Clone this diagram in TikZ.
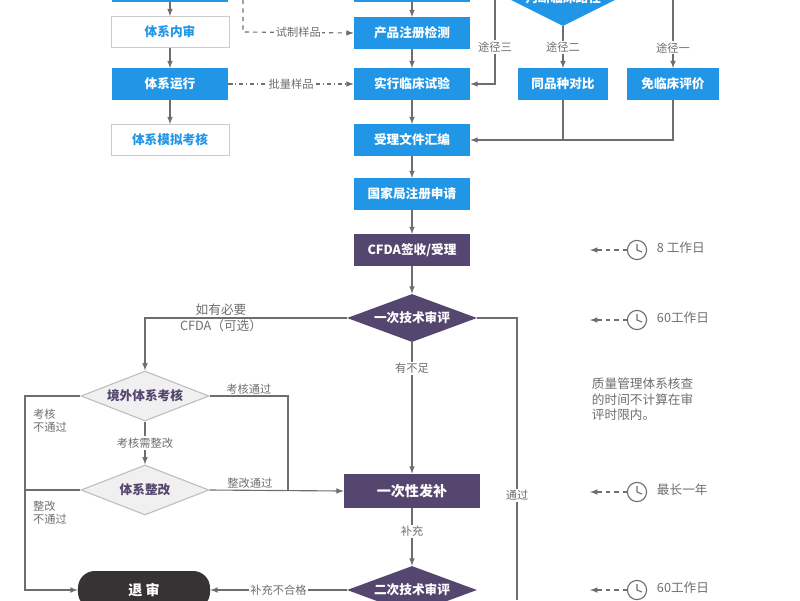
\documentclass[tikz,border=0pt]{standalone}
\usepackage{fontspec}
\setmainfont{Noto Sans CJK SC}
\usetikzlibrary{shapes,arrows,positioning}
\definecolor{regblue}{RGB}{33,150,230}
\definecolor{regpurple}{RGB}{84,70,110}
\definecolor{regdark}{RGB}{55,50,52}
\definecolor{reggray}{RGB}{110,110,110}
\tikzset{
  bluebox/.style={draw=none, fill=regblue, text=white, minimum width=2.9cm, minimum height=0.78cm, font=\bfseries\small, inner sep=0pt},
  whitebox/.style={draw=black!20, fill=white, text=regblue, minimum width=2.95cm, minimum height=0.78cm, font=\bfseries\small, inner sep=0pt},
  purplebox/.style={fill=regpurple, text=white, minimum width=2.9cm, minimum height=0.78cm, font=\bfseries\small, inner sep=0pt},
  purplediam/.style={diamond, aspect=2.8, fill=regpurple, text=white, minimum width=3.25cm, minimum height=1.2cm, font=\bfseries\small, inner sep=0pt},
  graydiam/.style={diamond, aspect=2.6, fill=black!6, draw=black!25, thick, text=regpurple, minimum width=3.2cm, minimum height=1.25cm, font=\bfseries\small, inner sep=0pt},
  line/.style={draw=reggray, thick},
  arr/.style={line, -latex},
  lbl/.style={text=reggray, font=\footnotesize, fill=white, inner sep=1pt},
  note/.style={text=reggray, font=\small},
}
\begin{document}
\begin{tikzpicture}[x=0.025cm, y=-0.025cm]
\useasboundingbox (0,0) rectangle (800,600);
\clip (0,0) rectangle (800,600);

% left column
\node[bluebox] (sysdoc) at (170,-14) {};
\node[whitebox] (audit) at (170,32) {体系内审};
\node[bluebox] (run) at (170,84) {体系运行};
\node[whitebox] (mock) at (170,140) {体系模拟考核};
\draw[arr] (sysdoc) -- (audit);
\draw[arr] (audit) -- (run);
\draw[arr] (run) -- (mock);

% middle column
\node[bluebox] (design) at (412,-14) {};
\node[bluebox] (test) at (412,33) {产品注册检测};
\node[bluebox] (trial) at (412,84) {实行临床试验};
\node[bluebox] (docs) at (412,140) {受理文件汇编};
\node[bluebox] (apply) at (412,194) {国家局注册申请};
\node[purplebox] (cfda) at (412,250) {CFDA签收/受理};
\node[purplediam] (rev1) at (412,318) {一次技术审评};
\node[purplebox, minimum width=3.4cm, minimum height=0.85cm, font=\bfseries] (supp) at (412,491) {一次性发补};
\node[purplediam] (rev2) at (412,590) {二次技术审评};
\draw[arr] (design) -- (test);
\draw[arr] (test) -- (trial);
\draw[arr] (trial) -- (docs);
\draw[arr] (docs) -- (apply);
\draw[arr] (apply) -- (cfda);
\draw[arr] (cfda) -- (rev1);
\draw[arr] (rev1) -- node[lbl, pos=0.2] {有不足} (supp);
\draw[arr] (supp) -- node[lbl, pos=0.4] {补充} (rev2);

% dashed sample flows
\coordinate (dtop) at (243,0);
\draw[line, dashed, -latex] (dtop) -- (243,32) -- node[lbl] {试制样品} (test.west);
\draw[line, dash dot, -latex] (run) -- node[lbl] {批量样品} (trial);

% clinical routes
\node[diamond, aspect=2, fill=regblue, minimum width=3.8cm, minimum height=1.9cm, inner sep=0pt] (route) at (563,-12) {};
\node[text=white, font=\bfseries\small, inner sep=0pt] (routetxt) at (563,-2) {判断临床路径};
\node[bluebox, minimum width=2.25cm] (same) at (563,84) {同品种对比};
\node[bluebox, minimum width=2.3cm] (exempt) at (673,84) {免临床评价};
\coordinate (r3top) at (495,0);
\coordinate (r1top) at (673,0);
\coordinate (join) at (563,140);
\draw[arr] (r3top) -- (495,84) -- (trial.east);
\node[lbl] at (495,47) {途径三};
\draw[arr] (route.south) -- node[lbl] {途径二} (same);
\draw[arr] (r1top) -- node[lbl, pos=0.7] {途径一} (exempt);
\draw[line] (same) -- (join);
\draw[line] (exempt) |- (join);
\draw[arr] (join) -- (docs.east);

% overseas audit
\node[graydiam] (abroad) at (145,396) {境外体系考核};
\node[graydiam] (fix) at (145,490) {体系整改};
\node[rounded corners=12pt, fill=regdark, text=white, minimum width=3.3cm, minimum height=0.95cm, font=\bfseries] (reject) at (144,590) {退\ 审};
\draw[arr] (rev1.west) -- (145,318) -- (abroad.north);
\node[text=reggray, font=\small, align=center] at (221,318) {如有必要\\CFDA（可选）};
\draw[arr] (abroad) -- node[lbl] {考核需整改} (fix);
\draw[line] (abroad.east) -- node[lbl, above, fill=none] {考核通过} (288,396) -- (288,490);
\draw[arr] (fix.east) -- node[lbl, above, fill=none, pos=0.3] {整改通过} (supp.west);
\draw[arr] (abroad.west) -- (25,396) -- (25,590) -- (reject.west);
\draw[line] (fix.west) -- (25,490);
\node[lbl, align=left, fill=none] at (50,421) {考核\\不通过};
\node[lbl, align=left, fill=none] at (50,513) {整改\\不通过};
\draw[arr] (rev2.west) -- node[lbl] {补充不合格} (reject.east);
\coordinate (passend) at (517,600);
\draw[line] (rev1.east) -- (517,318) -- node[lbl, pos=0.63] {通过} (passend);

% time limits
\foreach \ty/\tt in {250/8 工作日, 320/60工作日, 492/最长一年, 590/60工作日} {
  \coordinate (clk) at (637,\ty);
  \draw[reggray, thick] (clk) circle (0.24cm);
  \draw[reggray, thick] (637,\ty-6) -- (clk) -- (642,\ty+2);
  \draw[reggray, thick, dashed, -latex] (627,\ty) -- (590,\ty);
  \node[note, anchor=west] at (652,\ty-2) {\tt};
}
\node[note, align=left, anchor=north west] at (587,373) {质量管理体系核查\\的时间不计算在审\\评时限内。};
\end{tikzpicture}
\end{document}
